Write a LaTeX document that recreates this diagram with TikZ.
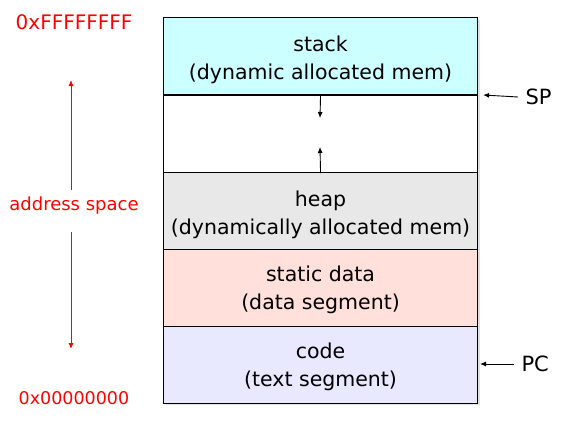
\documentclass[tikz,border=0pt]{standalone}
\usepackage{fontspec}
\usetikzlibrary{arrows.meta}
\setmainfont{DejaVu Sans}
\begin{document}
\begin{tikzpicture}[x=1pt,y=-1pt,
  seg/.style={draw=black,line width=1.1pt,minimum width=314pt,minimum height=77pt,inner sep=0pt,anchor=north west},
  segtext/.style={align=center,inner sep=0pt,font=\fontsize{20.5}{28}\selectfont},
  lbl/.style={text=red},
  side/.style={font=\fontsize{21}{24}\selectfont,anchor=west},
  arr/.style={-{Latex[length=6pt,width=5pt]},line width=0.9pt}]
\useasboundingbox (0,0) rectangle (570,439);
% shadow
\fill[black!12] (166,20) rectangle (480,405);
\node[seg,fill={rgb,255:red,204;green,255;blue,255}] (stack) at (163,17) {};
\node[seg,fill=white] (free) at (163,95) {};
\node[seg,fill={rgb,255:red,232;green,232;blue,232}] (heap) at (163,172) {};
\node[seg,fill={rgb,255:red,255;green,224;blue,218}] (static) at (163,249) {};
\node[seg,fill={rgb,255:red,232;green,232;blue,255}] (code) at (163,326) {};
\node[segtext] (stackt) at ([yshift=-4pt]stack.center) {stack\\(dynamic allocated mem)};
\node[segtext] (heapt) at ([yshift=-4pt]heap.center) {heap\\(dynamically allocated mem)};
\node[segtext] (statict) at ([yshift=-2pt]static.center) {static data\\(data segment)};
\node[segtext] (codet) at ([yshift=-2pt]code.center) {code\\(text segment)};
\coordinate (dn) at (320,118);
\coordinate (up) at (320,147);
\draw[arr] (free.north) -- (dn);
\draw[arr] (free.south) -- (up);
\node[side] (sp) at (522,97) {SP};
\draw[arr] (sp.west) ++(-4,0) coordinate (spt) (spt) -- ([xshift=5pt]free.north east);
\node[side] (pc) at (518,364) {PC};
\coordinate (pca) at (480,364);
\draw[arr] (pc.west) ++(-4,0) coordinate (pct) (pct) -- (pca);
\node[lbl,font=\fontsize{20}{24}\selectfont] (top) at (74,22) {0xFFFFFFFF};
\node[lbl,font=\fontsize{18}{22}\selectfont] (as) at (74,206) {address space};
\node[lbl,font=\fontsize{17.5}{22}\selectfont] (bot) at (74,398) {0x00000000};
\coordinate (upt) at (71,80);
\coordinate (dnt) at (71,349);
\coordinate (ups) at (71,190);
\coordinate (dns) at (71,232);
\draw[arr,red] (ups) -- (upt);
\draw[arr,red] (dns) -- (dnt);
\end{tikzpicture}
\end{document}
